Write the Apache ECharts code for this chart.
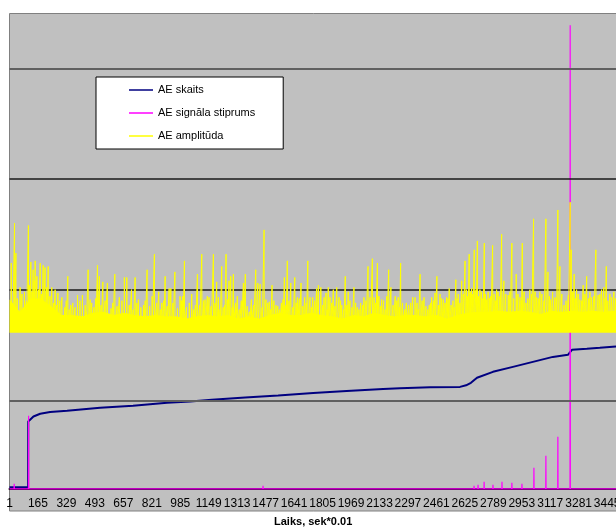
<!DOCTYPE html>
<html><head><meta charset="utf-8">
<script src="https://cdn.jsdelivr.net/npm/echarts@6/dist/echarts.min.js"></script>
<style>html,body{margin:0;padding:0;background:#fff}#c{width:616px;height:528px}</style>
</head><body><div id="c"></div>
<script>
// x categories: sample numbers 1..3496 visible (time, sek*0.01)
const categoryCount = 3496;
const tickStep = 164;
const categories = [];
for (let i = 1; i <= categoryCount; i++) categories.push(String(i));

const seriesNames = ['AE skaits', 'AE signāla stiprums', 'AE amplitūda'];

// AE skaits (cumulative count) [category index, value]
const countData = [[0,1.5],[107,1.5],[108,60.8],[119,62.3],[138,65.3],[177,67.8],[234,69.3],[332,70.5],[522,73.2],[712,75],[908,77.7],[1041,78.9],[1166,80.4],[1358,82.5],[1548,84.3],[1750,86.5],[1943,88.3],[2153,90.1],[2250,90.8],[2424,91.7],[2596,92.1],[2631,93.5],[2659,95.8],[2694,100.3],[2786,105.7],[2901,110.2],[3016,114.7],[3131,119.2],[3218,121.1],[3229,122],[3241,125.6],[3327,126.5],[3402,127.4],[3495,128.7]];

// AE signāla stiprums [category index, value]
const strengthData = [[0,0],[26,0],[27,4.5],[28,0],[109,0],[110,66],[111,0],[1460,0],[1461,2.7],[1462,0],[2647,0],[2648,1.4],[2649,0],[2664,0],[2665,1.8],[2666,0],[2676,0],[2677,2.7],[2678,0],[2699,0],[2700,3.6],[2701,0],[2734,0],[2735,6.3],[2736,0],[2785,0],[2786,3.6],[2787,0],[2837,0],[2838,6.3],[2839,0],[2894,0],[2895,5.4],[2896,0],[2952,0],[2953,4.5],[2954,0],[3021,0],[3022,19],[3023,0],[3090,0],[3091,29.8],[3092,0],[3159,0],[3160,47],[3161,0],[3230,0],[3231,419],[3232,0],[3252,0],[3253,1.8],[3254,0],[3495,0]];

// AE amplitūda: dense band (floor + ragged top read every 60 samples) and individual peaks
const amplitudeFloor = 141;
const amplitudeBandStep = 60;
const amplitudeBandTop = [171,160,172,172,165,157,157,156,159,160,157,159,157,156,157,156,156,154,156,157,156,157,154,156,154,157,159,157,157,159,157,156,154,157,156,159,157,156,157,157,156,157,154,157,159,160,160,161,160,161,160,158,161,160,161,160,161,160,161];
const amplitudeBandEnd = [3495, 160];
const amplitudeSpikeBase = 146;
const amplitudeSpikes = [[10,204],[29,240],[37,213],[61,182],[86,178],[109,238],[123,205],[136,198],[148,206],[158,192],[177,204],[194,202],[205,200],[223,201],[244,182],[263,180],[279,177],[302,173],[336,192],[353,166],[392,175],[420,175],[453,198],[465,171],[507,202],[518,192],[538,187],[564,186],[607,194],[633,173],[662,191],[676,191],[703,180],[724,191],[743,171],[772,166],[793,198],[822,174],[835,212],[860,178],[878,168],[897,192],[920,181],[930,181],[953,196],[983,174],[999,174],[1008,206],[1050,176],[1071,166],[1083,194],[1108,212],[1127,171],[1140,174],[1150,173],[1175,212],[1194,187],[1204,173],[1223,201],[1232,164],[1248,212],[1265,188],[1275,192],[1290,194],[1313,174],[1348,186],[1359,194],[1394,171],[1419,198],[1431,186],[1444,185],[1467,234],[1478,171],[1497,169],[1513,184],[1536,166],[1555,162],[1567,168],[1584,191],[1601,206],[1621,186],[1644,191],[1659,173],[1680,186],[1701,173],[1719,206],[1732,173],[1747,173],[1770,181],[1780,184],[1794,182],[1813,173],[1824,177],[1837,182],[1847,173],[1866,180],[1886,182],[1899,173],[1915,166],[1935,192],[1952,178],[1985,182],[2004,164],[2024,168],[2043,173],[2066,201],[2078,173],[2091,208],[2102,173],[2120,204],[2129,174],[2145,171],[2174,174],[2185,198],[2198,182],[2223,174],[2240,173],[2254,204],[2287,168],[2312,168],[2323,173],[2337,173],[2366,194],[2389,173],[2419,166],[2433,173],[2452,177],[2463,192],[2481,176],[2500,171],[2519,173],[2534,181],[2572,189],[2586,176],[2606,188],[2625,206],[2634,180],[2649,212],[2663,181],[2678,216],[2696,224],[2711,180],[2736,222],[2750,171],[2773,174],[2784,220],[2807,180],[2836,230],[2849,188],[2874,175],[2895,222],[2920,194],[2942,173],[2955,222],[2976,168],[2999,180],[3020,244],[3038,173],[3057,178],[3091,244],[3103,196],[3118,171],[3143,173],[3160,252],[3172,201],[3195,166],[3220,175],[3231,259],[3237,216],[3254,194],[3268,180],[3287,171],[3306,184],[3326,192],[3354,173],[3379,216],[3392,175],[3412,180],[3425,182],[3439,201],[3470,173],[3483,178]];
const amplitudeMidSpikes = [[18,168],[45,172],[72,176],[97,170],[116,184],[130,178],[142,188],[167,180],[186,176],[214,182],[233,174],[253,168],[271,166],[290,170],[318,164],[327,170],[344,162],[365,168],[378,164],[406,170],[436,166],[442,160],[474,168],[486,164],[497,172],[528,166],[551,170],[585,163],[595,168],[620,165],[648,170],[690,166],[713,162],[734,168],[757,164],[782,170],[808,165],[848,168],[869,162],[888,170],[909,165],[942,168],[968,163],[991,170],[1020,164],[1036,168],[1060,162],[1096,166],[1118,170],[1162,165],[1185,168],[1213,162],[1240,166],[1257,171],[1283,164],[1302,168],[1324,162],[1336,170],[1370,165],[1382,160],[1406,166],[1456,164],[1488,168],[1505,162],[1524,170],[1546,165],[1576,171],[1593,166],[1611,170],[1632,164],[1652,168],[1670,172],[1690,165],[1710,168],[1740,164],[1758,170],[1804,166],[1830,162],[1856,168],[1876,165],[1908,170],[1925,162],[1944,166],[1962,170],[1974,164],[1995,168],[2014,162],[2034,166],[2054,170],[2110,168],[2137,165],[2156,170],[2165,162],[2210,166],[2232,170],[2247,164],[2265,168],[2276,162],[2300,166],[2349,168],[2356,162],[2378,170],[2400,165],[2410,162],[2426,168],[2443,170],[2472,166],[2490,172],[2510,168],[2527,172],[2545,166],[2556,170],[2563,164],[2579,172],[2596,168],[2615,176],[2641,174],[2656,178],[2670,176],[2688,180],[2704,174],[2720,178],[2728,172],[2743,176],[2758,178],[2766,172],[2793,176],[2800,170],[2815,178],[2826,174],[2860,176],[2884,178],[2906,172],[2930,176],[2949,170],[2966,178],[2987,172],[3008,176],[3029,178],[3047,172],[3068,176],[3080,170],[3111,174],[3130,178],[3151,172],[3183,176],[3207,170],[3246,178],[3261,172],[3277,176],[3296,170],[3316,176],[3336,172],[3345,178],[3366,174],[3402,176],[3432,172],[3448,170],[3460,176],[3492,172]];

// horizontal grid line values
const gridValues = [80, 180, 280, 380];

// ---- build series data from the arrays ----
const bandPoints = amplitudeBandTop.map((t, k) => [k * amplitudeBandStep, t]).concat([amplitudeBandEnd]);
const bandBase = bandPoints.map(p => [p[0], amplitudeFloor]);
const bandThick = bandPoints.map(p => [p[0], p[1] - amplitudeFloor]);
const allSpikes = amplitudeSpikes.concat(amplitudeMidSpikes).sort((a, b) => a[0] - b[0]);
const spikeLine = [];
allSpikes.forEach(([c, v]) => {
  spikeLine.push([c - 1, amplitudeSpikeBase], [c, v], [c + 1, amplitudeSpikeBase]);
});
const gridStyles = {80: ['#606060', 2], 180: ['#1a1a1a', 1.5], 280: ['#1a1a1a', 1.5], 380: ['#606060', 2]};

const chart = echarts.init(document.getElementById('c'), null, {renderer: 'canvas'});
chart.setOption({
  animation: false,
  backgroundColor: '#ffffff',
  textStyle: {fontFamily: 'Liberation Sans'},
  graphic: [{
    type: 'rect', z: -10, silent: true,
    shape: {x: 9.5, y: 13.5, width: 650, height: 497.5},
    style: {fill: '#C0C0C0', stroke: '#808080', lineWidth: 1}
  }],
  title: {
    text: 'Laiks, sek*0.01', left: 274, top: 516, padding: 0,
    textStyle: {fontFamily: 'Liberation Sans', fontSize: 11, fontWeight: 'bold', color: '#000'}
  },
  legend: {
    orient: 'vertical', left: 96, top: 77, padding: [6, 28, 6, 33],
    itemGap: 9, itemWidth: 24, itemHeight: 1.5, icon: 'rect',
    backgroundColor: '#ffffff', borderColor: '#000000', borderWidth: 1,
    selectedMode: false,
    textStyle: {fontFamily: 'Liberation Sans', fontSize: 11, color: '#000', lineHeight: 14},
    data: seriesNames
  },
  grid: {left: 9.5, right: 0, top: 13, bottom: 37, containLabel: false, outerBoundsMode: 'none'},
  xAxis: {
    type: 'category', data: categories, boundaryGap: false,
    axisLine: {lineStyle: {color: '#000', width: 2}},
    axisTick: {show: false},
    axisLabel: {interval: (index) => index % tickStep === 0, color: '#000', fontSize: 12, fontFamily: 'Liberation Sans', margin: 7},
    splitLine: {show: false}
  },
  yAxis: {type: 'value', min: -2, max: 430, show: false},
  series: [
    {name: seriesNames[0], type: 'line', data: countData, symbol: 'none', z: 2,
     lineStyle: {color: '#000080', width: 2}, itemStyle: {color: '#000080'}},
    {name: seriesNames[1], type: 'line', data: strengthData, symbol: 'none', z: 3,
     lineStyle: {color: '#FF00FF', width: 1.2}, itemStyle: {color: '#FF00FF'}},
    {name: 'amplBase', type: 'line', stack: 'ampl', data: bandBase, symbol: 'none', z: 4, silent: true,
     lineStyle: {width: 0, opacity: 0}, itemStyle: {color: '#FFFF00'}},
    {name: seriesNames[2], type: 'line', stack: 'ampl', data: bandThick, symbol: 'none', z: 4,
     lineStyle: {width: 0}, areaStyle: {color: '#FFFF00', opacity: 1}, itemStyle: {color: '#FFFF00'}},
    {name: seriesNames[2], type: 'line', data: spikeLine, symbol: 'none', z: 5,
     lineStyle: {color: '#FFFF00', width: 1}, itemStyle: {color: '#FFFF00'},
     markLine: {
       silent: true, symbol: 'none', label: {show: false}, animation: false,
       data: gridValues.map(v => ({yAxis: v, lineStyle: {color: gridStyles[v][0], width: gridStyles[v][1], type: 'solid'}}))
     }}
  ]
});
</script>
</body></html>
